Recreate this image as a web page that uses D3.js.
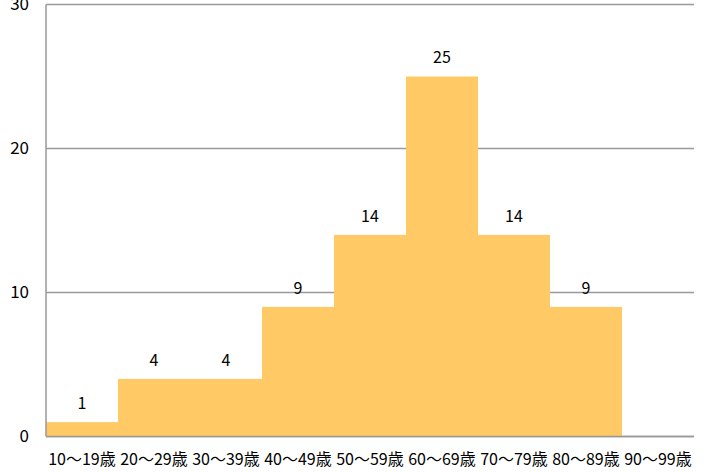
<!DOCTYPE html>
<html><head><meta charset="utf-8">
<script src="https://cdn.jsdelivr.net/npm/d3@7/dist/d3.min.js"></script>
<style>body{margin:0;background:#fff}svg{display:block}</style>
</head><body>
<svg id="c" width="705" height="472"></svg>
<script>
const categories = ["10〜19歳","20〜29歳","30〜39歳","40〜49歳","50〜59歳","60〜69歳","70〜79歳","80〜89歳","90〜99歳"];
const values = [1,4,4,9,14,25,14,9,0];
const yTicks = [0,10,20,30];

const svg = d3.select("#c");
const font = "'Noto Sans CJK JP', 'Noto Sans', sans-serif";
const m = {left:46, right:694, top:4.5, bottom:436.5};
const x = d3.scaleBand().domain(categories).range([m.left, m.right]).padding(0);
const y = d3.scaleLinear().domain([0,30]).range([m.bottom, m.top]);

svg.append("g").selectAll("line").data(yTicks).join("line")
  .attr("x1", m.left).attr("x2", m.right)
  .attr("y1", d=>y(d)).attr("y2", d=>y(d))
  .attr("stroke", "#999").attr("stroke-width", 1.5);

svg.append("g").selectAll("rect").data(values).join("rect")
  .attr("x", (d,i)=>x(categories[i]))
  .attr("width", x.bandwidth())
  .attr("y", d=>y(d))
  .attr("height", d=>y(0)-y(d))
  .attr("fill", "#FFCA65");

svg.append("line").attr("x1", m.left).attr("x2", m.right)
  .attr("y1", y(0)).attr("y2", y(0)).attr("stroke", "#999").attr("stroke-width", 1.5);
svg.append("line").attr("x1", m.left).attr("x2", m.left)
  .attr("y1", y(30)).attr("y2", y(0)).attr("stroke", "#999").attr("stroke-width", 1.5);

svg.append("g").selectAll("text").data(values.map((v,i)=>({v,i})).filter(d=>d.v>0)).join("text")
  .attr("x", d=>x(categories[d.i]) + x.bandwidth()/2)
  .attr("y", d=>y(d.v) - 19)
  .attr("dy", "0.35em")
  .attr("text-anchor", "middle")
  .attr("font-family", font).attr("font-size", 16).attr("fill", "#000")
  .text(d=>d.v);

svg.append("g").selectAll("text").data(yTicks).join("text")
  .attr("x", 29).attr("y", d=>y(d))
  .attr("dy", "0.35em")
  .attr("text-anchor", "end")
  .attr("font-family", font).attr("font-size", 17).attr("fill", "#000")
  .text(d=>d);

svg.append("g").selectAll("text").data(categories).join("text")
  .attr("x", d=>x(d) + x.bandwidth()/2)
  .attr("y", 459)
  .attr("dy", "0.35em")
  .attr("text-anchor", "middle")
  .attr("font-family", font).attr("font-size", 16).attr("fill", "#000")
  .text(d=>d);
</script>
</body></html>
